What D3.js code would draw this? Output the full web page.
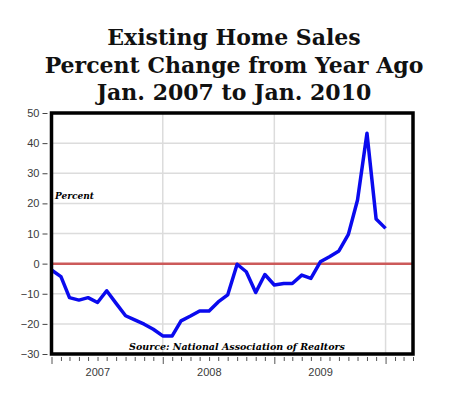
<!DOCTYPE html>
<html>
<head>
<meta charset="utf-8">
<script src="https://cdn.jsdelivr.net/npm/d3@7"></script>
<style>
  body { margin: 0; background: #fff; }
</style>
</head>
<body>
<div id="container"></div>
<script>
let w = 450;
let h = 399;

// year-over-year % change, monthly Jan 2007 .. Jan 2010
let months = d3.timeMonths(new Date(2007, 0, 1), new Date(2010, 1, 1));
let pctChange = [
  -2.1, -4.3, -11.3, -12.1, -11.3, -12.9, -9.0, -13.2, -17.3, -18.7, -20.1, -21.8,
  -24.0, -24.0, -19.0, -17.4, -15.7, -15.7, -12.7, -10.4, -0.2, -2.7, -9.6, -3.6,
  -7.1, -6.6, -6.6, -3.8, -4.9, 0.6, 2.3, 4.2, 9.7, 21.1, 43.3, 14.8, 11.7
];
let yTicks = [-30, -20, -10, 0, 10, 20, 30, 40, 50];
let yearLabels = [2007, 2008, 2009];
let titleLines = ["Existing Home Sales", "Percent Change from Year Ago", "Jan. 2007 to Jan. 2010"];

let data = months.map((d, i) => ({date: d, value: pctChange[i]}));

let viz = d3.select("#container")
  .append("svg")
    .attr("width", w)
    .attr("height", h)
    .style("background-color", "white")
;

let pLeft = 51.5, pRight = 413, pTop = 113, pBottom = 354;

let xScale = d3.scaleTime()
  .domain([new Date(2007, 0, 1), new Date(2010, 3, 1)])
  .range([pLeft, pRight]);
let yScale = d3.scaleLinear().domain([-30, 50]).range([pBottom, pTop]);

// title
viz.selectAll(".title").data(titleLines).enter()
  .append("text")
    .attr("class", "title")
    .attr("x", 234)
    .attr("y", (d, i) => 45 + i * 27.5)
    .attr("text-anchor", "middle")
    .style("font-family", "DejaVu Serif")
    .style("font-weight", "bold")
    .style("font-size", "22px")
    .attr("fill", "#111")
    .text(d => d)
;

// grid
viz.append("g").selectAll("line").data(yTicks.filter(d => d != 0 && d != 50 && d != -30)).enter()
  .append("line")
    .attr("x1", pLeft).attr("x2", pRight)
    .attr("y1", d => yScale(d)).attr("y2", d => yScale(d))
    .attr("stroke", "#dcdcdc").attr("stroke-width", 1.5)
;
viz.append("g").selectAll("line").data([2008, 2009, 2010]).enter()
  .append("line")
    .attr("x1", d => xScale(new Date(d, 0, 1))).attr("x2", d => xScale(new Date(d, 0, 1)))
    .attr("y1", pTop).attr("y2", pBottom)
    .attr("stroke", "#dcdcdc").attr("stroke-width", 1.5)
;

// zero line
viz.append("line")
  .attr("x1", pLeft).attr("x2", pRight)
  .attr("y1", yScale(0)).attr("y2", yScale(0))
  .attr("stroke", "#cc5a5a").attr("stroke-width", 2.5)
;

// y axis
let yAxis = d3.axisLeft(yScale).tickValues(yTicks).tickSize(5).tickPadding(3);
let yg = viz.append("g")
  .attr("transform", "translate(" + (pLeft - 4) + ",0)")
  .call(yAxis);
yg.select(".domain").remove();
yg.selectAll(".tick line").attr("stroke", "#444");
yg.selectAll("text")
  .style("font-family", "Liberation Sans")
  .style("font-size", "11px")
  .attr("fill", "#3a3a3a");

// x axis month ticks
let xAxis = d3.axisBottom(xScale)
  .tickValues(d3.timeMonths(new Date(2007, 0, 1), new Date(2010, 3, 2)))
  .tickSize(5)
  .tickFormat("");
let xg = viz.append("g")
  .attr("transform", "translate(0," + (pBottom + 3) + ")")
  .call(xAxis);
xg.select(".domain").remove();
xg.selectAll(".tick line")
  .attr("stroke", "#555")
  .attr("y2", d => d.getMonth() == 0 ? 7 : 4);

viz.append("g").selectAll("text").data(yearLabels).enter()
  .append("text")
    .attr("x", d => xScale(new Date(d, 5, 15)) - 4)
    .attr("y", 376)
    .attr("text-anchor", "middle")
    .style("font-family", "Liberation Sans")
    .style("font-size", "11px")
    .attr("fill", "#3a3a3a")
    .text(d => d)
;

// line
let line = d3.line()
  .x(d => xScale(d.date))
  .y(d => yScale(d.value));
viz.append("path")
  .datum(data)
  .attr("d", line)
  .attr("fill", "none")
  .attr("stroke", "#0a0aee")
  .attr("stroke-width", 3.5)
  .attr("stroke-linejoin", "round")
;

// frame
viz.append("rect")
  .attr("x", pLeft).attr("y", pTop)
  .attr("width", pRight - pLeft).attr("height", pBottom - pTop)
  .attr("fill", "none")
  .attr("stroke", "black")
  .attr("stroke-width", 3.5)
;

viz.append("text")
  .attr("x", 55).attr("y", 199)
  .style("font-family", "DejaVu Serif")
  .style("font-weight", "bold")
  .style("font-style", "italic")
  .style("font-size", "9px")
  .text("Percent")
;
viz.append("text")
  .attr("x", 237).attr("y", 350)
  .attr("text-anchor", "middle")
  .style("font-family", "DejaVu Serif")
  .style("font-weight", "bold")
  .style("font-style", "italic")
  .style("font-size", "9.5px")
  .text("Source: National Association of Realtors")
;
</script>
</body>
</html>
